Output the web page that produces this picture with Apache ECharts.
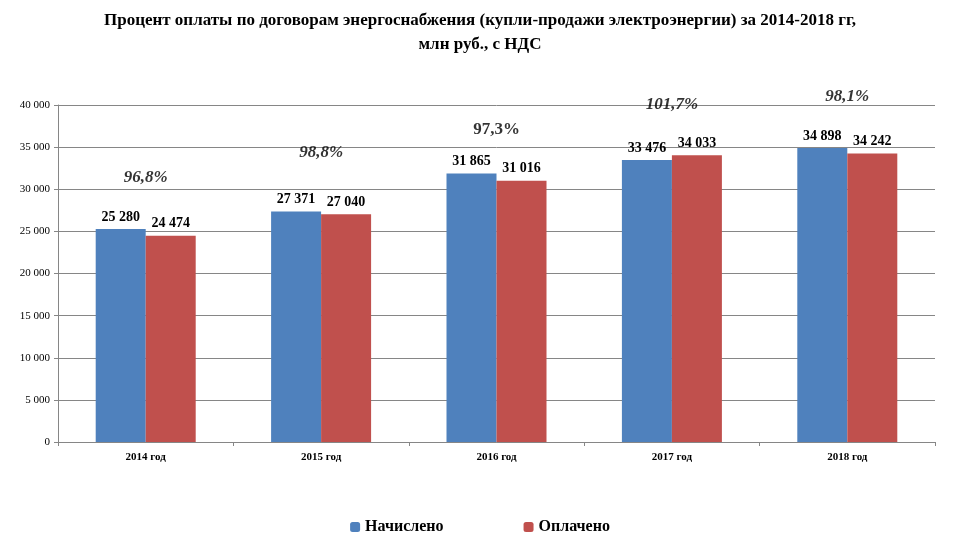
<!DOCTYPE html><html><head><meta charset="utf-8"><script src="https://cdn.jsdelivr.net/npm/echarts@6/dist/echarts.min.js"></script></head><body style="margin:0;background:#fff"><div id="c" style="width:960px;height:548px"></div><script>
const categories=['2014 год','2015 год','2016 год','2017 год','2018 год'];
const accrued=[25280,27371,31865,33476,34898];
const paid=[24474,27040,31016,34033,34242];
const pct=['96,8%','98,8%','97,3%','101,7%','98,1%'];
const pctItalic=[true,true,false,true,true];
const pctLift=[-38,-45,-30,-37,-38];
const fmt=v=>String(v).replace(/\B(?=(\d{3})+(?!\d))/g,' ');
const F='Liberation Serif';
const ch=echarts.init(document.getElementById('c'));
ch.setOption({
 textStyle:{fontFamily:F},
 title:{text:'Процент оплаты по договорам энергоснабжения (купли-продажи электроэнергии) за 2014-2018 гг,\nмлн руб., с НДС',left:'center',top:4,textStyle:{fontFamily:F,fontSize:17,fontWeight:'bold',color:'#000',lineHeight:24}},
 legend:{bottom:8,itemWidth:10,itemHeight:10,itemGap:80,textStyle:{fontFamily:F,fontSize:16,fontWeight:'bold',color:'#000'},data:['Начислено','Оплачено']},
 grid:{left:58,right:25,top:105,bottom:106},
 xAxis:{type:'category',data:categories,axisTick:{show:true,alignWithLabel:false,length:4,lineStyle:{color:'#868686'}},axisLine:{lineStyle:{color:'#868686'}},axisLabel:{fontFamily:F,fontSize:11,fontWeight:'bold',color:'#000',margin:10}},
 yAxis:{type:'value',min:0,max:40000,interval:5000,axisLine:{show:true,lineStyle:{color:'#868686'}},axisTick:{show:true,length:4,lineStyle:{color:'#868686'}},splitLine:{lineStyle:{color:'#868686'}},axisLabel:{fontFamily:F,fontSize:11,color:'#000',formatter:fmt}},
 series:[
  {name:'Начислено',type:'bar',data:accrued,barWidth:50,barGap:'0%',itemStyle:{color:'#4f81bd'},label:{show:true,position:'top',formatter:p=>fmt(p.value),fontFamily:F,fontSize:14,fontWeight:'bold',color:'#000'}},
  {name:'Оплачено',type:'bar',data:paid,barWidth:50,itemStyle:{color:'#c0504d'},label:{show:true,position:'top',formatter:p=>fmt(p.value),fontFamily:F,fontSize:14,fontWeight:'bold',color:'#000'}},
  {type:'scatter',symbolSize:0,silent:true,data:accrued.map((v,i)=>({value:Math.max(v,paid[i]),label:{offset:[0,pctLift[i]],fontStyle:pctItalic[i]?'italic':'normal'}})),
   label:{show:true,position:'top',formatter:p=>pct[p.dataIndex],fontFamily:F,fontSize:17,fontWeight:'bold',color:'#000'}}
 ]
});
</script></body></html>
